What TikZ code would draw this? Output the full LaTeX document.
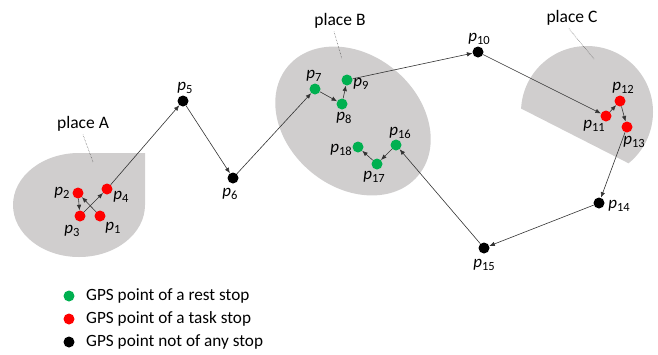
\documentclass[tikz,border=0pt]{standalone}
\usepackage{fontspec}
\setmainfont{Carlito}
\usetikzlibrary{arrows.meta}
\definecolor{placegray}{RGB}{208,206,206}
\definecolor{reststop}{RGB}{0,176,80}
\definecolor{taskstop}{RGB}{255,0,0}
% point label: italic p with a numeric subscript
\newcommand{\gpsp}[1]{{\fontsize{17}{17}\selectfont\itshape p}\raisebox{-3.5pt}{\fontsize{12.5}{13}\selectfont #1}}
\tikzset{
  dot/.style={circle, inner sep=0pt, minimum size=11pt},
  rest/.style={dot, fill=reststop},
  task/.style={dot, fill=taskstop},
  move/.style={dot, fill=black},
  plab/.style={inner sep=0pt},
  hop/.style={-{Latex[length=5.5pt,width=4.5pt]}, line width=0.6pt, draw=black!80},
  leader/.style={densely dotted, line width=0.5pt, draw=black!70},
  placetxt/.style={inner sep=0pt, font=\fontsize{17.5}{18}\selectfont},
  legtxt/.style={anchor=west, inner sep=0pt, font=\fontsize{17.2}{18}\selectfont},
}
\begin{document}
\begin{tikzpicture}[x=1pt,y=-1pt]
\useasboundingbox (0,0) rectangle (658,354);

% places
\fill[placegray] (79,153) -- (145,153) -- (145,205)
  arc[start angle=0, end angle=270, x radius=66, y radius=52] -- cycle;
\fill[placegray, shift={(353,121)}, rotate=-40] (0,0) ellipse[x radius=85, y radius=66];
\fill[placegray] (587,112) ++(183:66) arc[start angle=183, end angle=411, radius=66] -- cycle;

% place names
\node[placetxt] (nA) at (83,124) {place A};
\node[placetxt] (nB) at (340,21) {place B};
\node[placetxt] (nC) at (572,18) {place C};
\coordinate (tA) at (93,162);
\coordinate (tB) at (342,59);
\coordinate (tC) at (594,59);
\draw[leader] (nA.south) ++(0,3) -- (tA);
\draw[leader] (nB.south) ++(-6,3) -- (tB);
\draw[leader] (nC.south) ++(-3,3) -- (tC);

% GPS points
\node[task] (p1) at (100,216) {};
\node[task] (p2) at (78,193) {};
\node[task] (p3) at (80,216) {};
\node[task] (p4) at (107,189) {};
\node[move] (p5) at (183,101) {};
\node[move] (p6) at (233,178) {};
\node[rest] (p7) at (315,89) {};
\node[rest] (p8) at (342,104) {};
\node[rest] (p9) at (347,80) {};
\node[move] (p10) at (478,52) {};
\node[task] (p11) at (606,116) {};
\node[task] (p12) at (620,101) {};
\node[task] (p13) at (627,127) {};
\node[move] (p14) at (599,203) {};
\node[move] (p15) at (484,248) {};
\node[rest] (p16) at (396,145) {};
\node[rest] (p17) at (377,164) {};
\node[rest] (p18) at (358,147) {};

% point labels
\node[plab] (l1) at (113,228) {\gpsp{1}};
\node[plab] (l2) at (62,193) {\gpsp{2}};
\node[plab] (l3) at (72,231) {\gpsp{3}};
\node[plab] (l4) at (121,197) {\gpsp{4}};
\node[plab] (l5) at (185,88) {\gpsp{5}};
\node[plab] (l6) at (230,194) {\gpsp{6}};
\node[plab] (l7) at (314,76) {\gpsp{7}};
\node[plab] (l8) at (344,118) {\gpsp{8}};
\node[plab] (l9) at (361,84) {\gpsp{9}};
\node[plab] (l10) at (479,39) {\gpsp{10}};
\node[plab] (l11) at (594,126) {\gpsp{11}};
\node[plab] (l12) at (623,88) {\gpsp{12}};
\node[plab] (l13) at (634,142) {\gpsp{13}};
\node[plab] (l14) at (619,206) {\gpsp{14}};
\node[plab] (l15) at (484,265) {\gpsp{15}};
\node[plab] (l16) at (400,133) {\gpsp{16}};
\node[plab] (l17) at (374,177) {\gpsp{17}};
\node[plab] (l18) at (341,150) {\gpsp{18}};

% trajectory
\foreach \a/\b in {p1/p2, p2/p3, p3/p4, p4/p5, p5/p6, p6/p7, p7/p8, p8/p9,
                   p9/p10, p10/p11, p11/p12, p12/p13, p13/p14, p14/p15,
                   p15/p16, p16/p17, p17/p18}
  \draw[hop] (\a) -- (\b);

% legend
\node[rest] (k1) at (69,296) {};
\node[task] (k2) at (69,319) {};
\node[move] (k3) at (69,342) {};
\node[legtxt] (t1) at (86,296) {GPS point of a rest stop};
\node[legtxt] (t2) at (86,319) {GPS point of a task stop};
\node[legtxt] (t3) at (86,342) {GPS point not of any stop};
\end{tikzpicture}
\end{document}
